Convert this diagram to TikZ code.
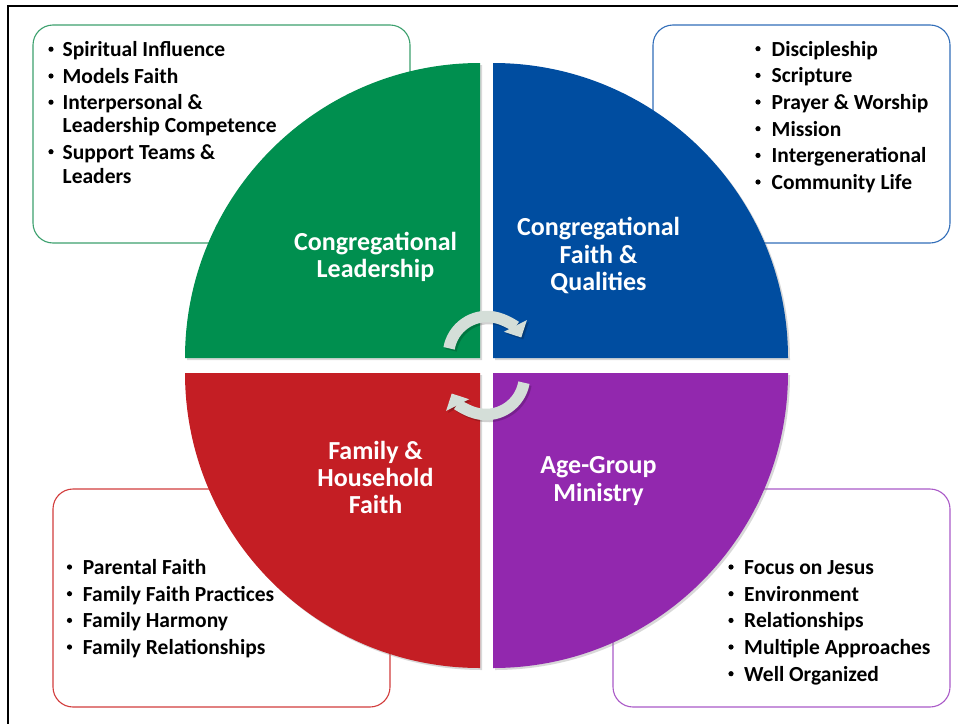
\documentclass[tikz,border=0pt]{standalone}
\usepackage{fontspec}
\setmainfont{Carlito}
\usetikzlibrary{arrows.meta,shadows}
\definecolor{qgreen}{RGB}{0,143,79}
\definecolor{qblue}{RGB}{0,77,160}
\definecolor{qred}{RGB}{196,30,36}
\definecolor{qpurple}{RGB}{146,40,174}
\definecolor{bgreen}{RGB}{60,160,110}
\definecolor{bblue}{RGB}{50,110,185}
\definecolor{bred}{RGB}{210,60,60}
\definecolor{bpurple}{RGB}{170,90,200}
\definecolor{arrowgrey}{RGB}{212,222,216}
\newcommand{\listfont}{\fontsize{21.5}{26}\selectfont\bfseries}
\newcommand{\titlefont}{\fontsize{26}{28}\selectfont\bfseries}
\begin{document}
\begin{tikzpicture}[x=1pt,y=-1pt,
  listbox/.style={line width=1.1pt,fill=white,rounded corners=20pt},
  quad/.style={drop shadow={shadow xshift=2pt,shadow yshift=-2pt,opacity=0.3}},
  listtxt/.style={anchor=base west,inner sep=0pt,font=\listfont,text=black},
  bulletdot/.style={circle,fill=black,inner sep=0pt,minimum size=5.2pt,yshift=7.3pt},
  qtitle/.style={anchor=base,inner sep=0pt,font=\titlefont,text=white},
  arrowband/.style={draw=arrowgrey,line width=11.5pt,-{Triangle[width=25pt,length=13pt]}},
  arrowshadow/.style={draw=black,opacity=0.18,line width=11.5pt,-{Triangle[width=25pt,length=13pt]}}
]
\useasboundingbox (0,0) rectangle (958,723);
\fill[white] (0,0) rectangle (958,723);
% frame
\draw[line width=2.4pt,black] (970,6) -- (8,6) -- (8,740);

% list boxes
\draw[listbox,draw=bgreen] (33,25) rectangle (410,243);
\draw[listbox,draw=bblue] (653,25) rectangle (950,243);
\draw[listbox,draw=bred] (53,489) rectangle (390,707);
\draw[listbox,draw=bpurple] (613,489) rectangle (950,707);

% quadrants
\fill[quad,qgreen] (480,358) -- (185,358) arc[start angle=180,end angle=270,radius=295] -- cycle;
\fill[quad,qblue] (493,358) -- (493,63) arc[start angle=270,end angle=360,radius=295] -- cycle;
\fill[quad,qred] (480,373) -- (480,668) arc[start angle=90,end angle=180,radius=295] -- cycle;
\fill[quad,qpurple] (493,373) -- (788,373) arc[start angle=0,end angle=90,radius=295] -- cycle;

% cycle arrows
\draw[arrowshadow] ([shift={(2,2)}]487,355) ++(190:38.5) arc[start angle=190,end angle=333,radius=38.5];
\draw[arrowband] (487,355) ++(190:38.5) arc[start angle=190,end angle=333,radius=38.5];
\draw[arrowshadow] ([shift={(2,2)}]486,376) ++(10:38.5) arc[start angle=10,end angle=153,radius=38.5];
\draw[arrowband] (486,376) ++(10:38.5) arc[start angle=10,end angle=153,radius=38.5];

% quadrant titles
\node[qtitle] (g1) at (375.5,250) {Congregational};
\node[qtitle] (g2) at (375.5,277.5) {Leadership};
\node[qtitle] (b1) at (598.5,235) {Congregational};
\node[qtitle] (b2) at (598.5,263) {Faith \&};
\node[qtitle] (b3) at (598.5,290.5) {Qualities};
\node[qtitle] (r1) at (375.5,459) {Family \&};
\node[qtitle] (r2) at (375.5,486) {Household};
\node[qtitle] (r3) at (375.5,513.5) {Faith};
\node[qtitle] (p1) at (598.5,473.5) {Age-Group};
\node[qtitle] (p2) at (598.5,501.5) {Ministry};

% green list
\node[bulletdot] (gb1) at (51,56.5) {};
\node[listtxt] (gl1) at (62.5,56.5) {Spiritual Influence};
\node[bulletdot] (gb2) at (51,83.3) {};
\node[listtxt] (gl2) at (62.5,83.3) {Models Faith};
\node[bulletdot] (gb3) at (51,109.5) {};
\node[listtxt] (gl3) at (62.5,109.5) {Interpersonal \&};
\node[listtxt] (gl4) at (62.5,132.5) {Leadership Competence};
\node[bulletdot] (gb4) at (51,159) {};
\node[listtxt] (gl5) at (62.5,159) {Support Teams \&};
\node[listtxt] (gl6) at (62.5,183) {Leaders};

% blue list
\node[bulletdot] (bb1) at (758,56) {};
\node[listtxt] (bl1) at (771.5,56) {Discipleship};
\node[bulletdot] (bb2) at (758,82.7) {};
\node[listtxt] (bl2) at (771.5,82.7) {Scripture};
\node[bulletdot] (bb3) at (758,109.3) {};
\node[listtxt] (bl3) at (771.5,109.3) {Prayer \& Worship};
\node[bulletdot] (bb4) at (758,136) {};
\node[listtxt] (bl4) at (771.5,136) {Mission};
\node[bulletdot] (bb5) at (758,162.7) {};
\node[listtxt] (bl5) at (771.5,162.7) {Intergenerational};
\node[bulletdot] (bb6) at (758,189.3) {};
\node[listtxt] (bl6) at (771.5,189.3) {Community Life};

% red list
\node[bulletdot] (rb1) at (69.5,574.3) {};
\node[listtxt] (rl1) at (82.7,574.3) {Parental Faith};
\node[bulletdot] (rb2) at (69.5,601) {};
\node[listtxt] (rl2) at (82.7,601) {Family Faith Practices};
\node[bulletdot] (rb3) at (69.5,627.7) {};
\node[listtxt] (rl3) at (82.7,627.7) {Family Harmony};
\node[bulletdot] (rb4) at (69.5,654.3) {};
\node[listtxt] (rl4) at (82.7,654.3) {Family Relationships};

% purple list
\node[bulletdot] (pb1) at (731,574.3) {};
\node[listtxt] (pl1) at (744,574.3) {Focus on Jesus};
\node[bulletdot] (pb2) at (731,601) {};
\node[listtxt] (pl2) at (744,601) {Environment};
\node[bulletdot] (pb3) at (731,627.7) {};
\node[listtxt] (pl3) at (744,627.7) {Relationships};
\node[bulletdot] (pb4) at (731,654.3) {};
\node[listtxt] (pl4) at (744,654.3) {Multiple Approaches};
\node[bulletdot] (pb5) at (731,681) {};
\node[listtxt] (pl5) at (744,681) {Well Organized};
\end{tikzpicture}
\end{document}
